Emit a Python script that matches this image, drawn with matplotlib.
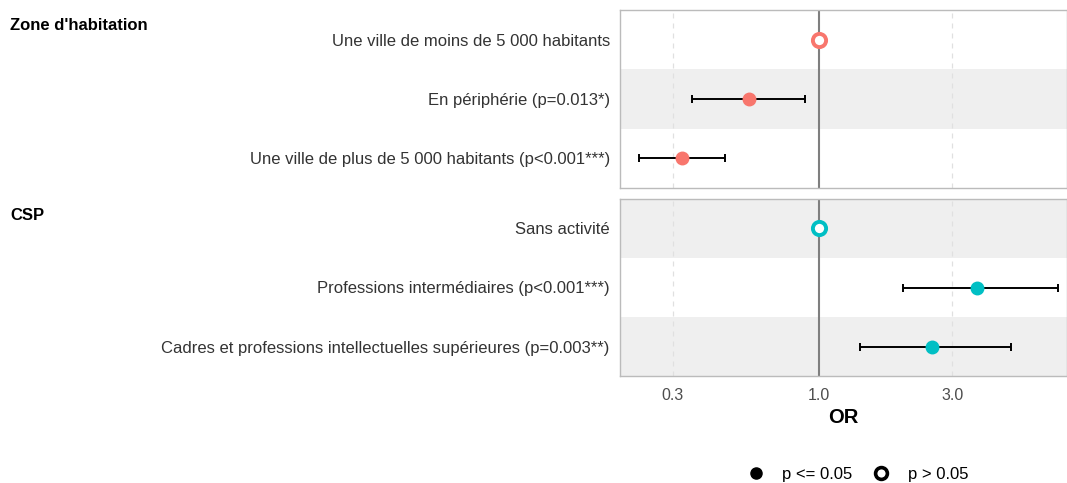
import matplotlib
matplotlib.use("Agg")
import matplotlib.pyplot as plt
from matplotlib.lines import Line2D
import numpy as np

plt.rcParams['font.family'] = ['Liberation Sans', 'DejaVu Sans']

# Data
group1_title = "Zone d'habitation"
group1_labels = ["Une ville de moins de 5 000 habitants",
                 "En périphérie (p=0.013*)",
                 "Une ville de plus de 5 000 habitants (p<0.001***)"]
group1_or = [1.0, 0.56, 0.324]
group1_low = [np.nan, 0.352, 0.227]
group1_high = [np.nan, 0.888, 0.461]
group1_sig = [False, True, True]

group2_title = "CSP"
group2_labels = ["Sans activité",
                 "Professions intermédiaires (p<0.001***)",
                 "Cadres et professions intellectuelles supérieures (p=0.003**)"]
group2_or = [1.0, 3.68, 2.53]
group2_low = [np.nan, 2.0, 1.40]
group2_high = [np.nan, 7.17, 4.86]
group2_sig = [False, True, True]

xticks = [0.3, 1.0, 3.0]
xtick_labels = ["0.3", "1.0", "3.0"]
xlim = (0.193, 7.7)

W, H = 1067, 483
fig = plt.figure(figsize=(W / 100, H / 100), dpi=100)


def px_axes(left, top, right, bottom):
    return fig.add_axes([left / W, 1 - bottom / H, (right - left) / W, (bottom - top) / H])


def draw_panel(ax, labels, ors, lows, highs, sig, color, shaded_rows, title, title_y):
    n = len(labels)
    ax.set_xscale('log')
    ax.set_xlim(*xlim)
    ax.set_ylim(n - 0.5, -0.5)
    for r in shaded_rows:
        ax.axhspan(r - 0.5, r + 0.5, color='#EFEFEF', zorder=0, lw=0)
    for t in [0.3, 3.0]:
        ax.axvline(t, color='#E0E0E0', lw=0.9, ls=(0, (4, 4)), zorder=1)
    ax.axvline(1.0, color='#7F7F7F', lw=1.5, zorder=2)
    for i in range(n):
        if not np.isnan(lows[i]):
            ax.errorbar([ors[i]], [i], xerr=[[ors[i] - lows[i]], [highs[i] - ors[i]]],
                        fmt='none', ecolor='black', elinewidth=1.4, capsize=2.6,
                        capthick=1.4, zorder=3)
        if sig[i]:
            ax.plot(ors[i], i, 'o', color=color, ms=9, mec=color, zorder=4)
        else:
            ax.plot(ors[i], i, 'o', mfc='white', mec=color, ms=9.5, mew=2.8, zorder=4)
    ax.set_yticks(range(n))
    ax.set_yticklabels(labels, fontsize=12, color='#333333')
    ax.tick_params(axis='y', length=0, pad=7)
    ax.minorticks_off()
    for s in ax.spines.values():
        s.set_color('#BBBBBB')
        s.set_linewidth(1.0)
    fig.text(10 / W, 1 - title_y / H, title, fontsize=12, fontweight='bold',
             ha='left', va='center', color='black')


ax1 = px_axes(619.5, 10, 1066.5, 188)
draw_panel(ax1, group1_labels, group1_or, group1_low, group1_high, group1_sig,
           '#F8766D', [1], group1_title, 25)
ax1.set_xticks(xticks)
ax1.tick_params(axis='x', length=0, labelbottom=False)

ax2 = px_axes(619.5, 199, 1066.5, 376)
draw_panel(ax2, group2_labels, group2_or, group2_low, group2_high, group2_sig,
           '#00BFC4', [0, 2], group2_title, 215)
ax2.set_xticks(xticks)
ax2.set_xticklabels(xtick_labels, fontsize=11.5, color='#4D4D4D')
ax2.tick_params(axis='x', length=0, pad=9)
ax2.minorticks_off()
ax2.set_xlabel("OR", fontsize=14.5, fontweight='bold', labelpad=3)

handles = [Line2D([], [], ls='none', marker='o', color='black', ms=8),
           Line2D([], [], ls='none', marker='o', mfc='white', mec='black', ms=8.5, mew=2.6)]
fig.legend(handles, ["p <= 0.05", "p > 0.05"], loc='center', bbox_to_anchor=(857 / W, 1 - 474 / H),
           ncol=2, frameon=False, fontsize=12, handletextpad=1.0, columnspacing=1.1,
           handlelength=1.2)

fig.savefig("out.png", dpi=100)
